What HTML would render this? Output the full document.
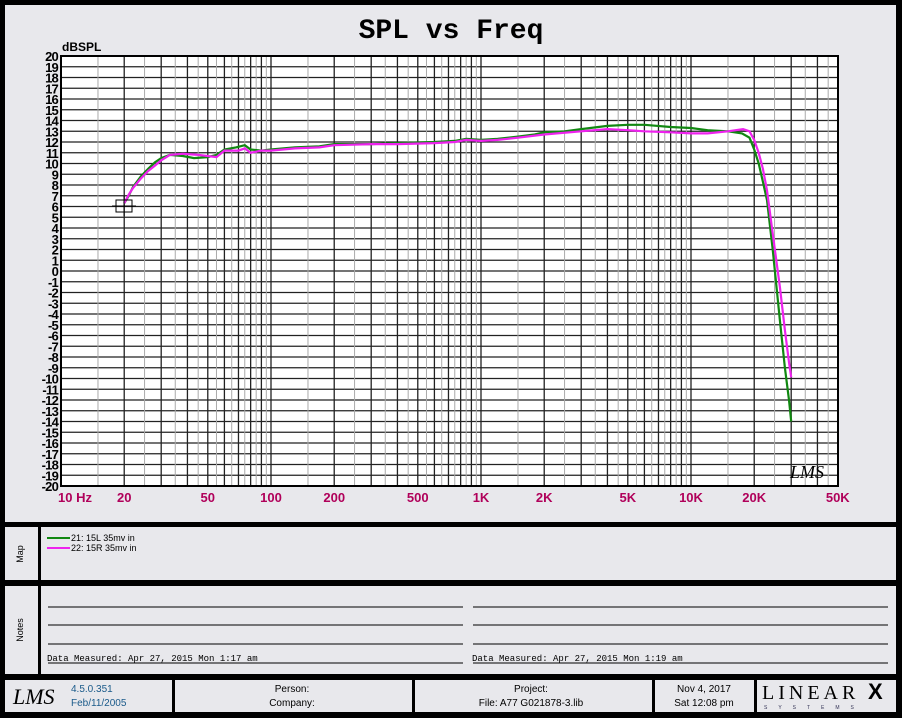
<!DOCTYPE html>
<html><head><meta charset="utf-8"><style>
body{margin:0;width:902px;height:718px;overflow:hidden;background:#000;font-family:"Liberation Sans",sans-serif}
svg{display:block}
</style></head><body>
<svg id="s" width="902" height="718" xmlns="http://www.w3.org/2000/svg">
<rect x="0" y="0" width="902" height="718" fill="#000"/>
<rect x="5" y="5" width="891" height="517" fill="#e8e8ec"/>
<rect x="5" y="527" width="891" height="53" fill="#e8e8ec"/>
<rect x="5" y="586" width="891" height="88" fill="#e8e8ec"/>
<rect x="5" y="680" width="891" height="32" fill="#e8e8ec"/>
<rect x="38" y="527" width="3" height="53" fill="#000"/>
<rect x="38" y="586" width="3" height="88" fill="#000"/>
<rect x="172" y="680" width="3" height="32" fill="#000"/>
<rect x="412" y="680" width="3" height="32" fill="#000"/>
<rect x="652" y="680" width="3" height="32" fill="#000"/>
<rect x="754" y="680" width="3" height="32" fill="#000"/>
<text x="451" y="38" text-anchor="middle" font-family="Liberation Mono,monospace" font-weight="bold" font-size="28">SPL vs Freq</text>
<text x="62" y="51" font-weight="bold" font-size="12">dBSPL</text>
<rect x="61" y="56" width="777" height="430" fill="#fff"/>
<g id="grid"></g>
<g id="lab"></g>
<polyline id="g" fill="none" stroke="#118811" stroke-width="2.2"/>
<polyline id="m" fill="none" stroke="#ee22ee" stroke-width="2.2"/>
<rect x="61" y="56" width="777" height="430" fill="none" stroke="#000" stroke-width="2"/>
<rect x="116" y="200" width="16" height="12" fill="none" stroke="#000" stroke-width="1"/>
<line x1="112" y1="206" x2="136" y2="206" stroke="#000"/>
<line x1="124" y1="196" x2="124" y2="216" stroke="#000"/>
<text x="790" y="478" font-family="Liberation Serif,serif" font-style="italic" font-size="18">LMS</text>
<line x1="47" y1="538" x2="70" y2="538" stroke="#118811" stroke-width="2"/>
<line x1="47" y1="548" x2="70" y2="548" stroke="#ee22ee" stroke-width="2"/>
<text x="71" y="541" font-size="9">21: 15L  35mv in</text>
<text x="71" y="551" font-size="9">22: 15R 35mv in</text>
<text x="23" y="554" font-size="9" transform="rotate(-90 23 554)" text-anchor="middle">Map</text>
<text x="23" y="630" font-size="9" transform="rotate(-90 23 630)" text-anchor="middle">Notes</text>
<g stroke="#000" stroke-width="1">
<line x1="48" y1="607" x2="463" y2="607"/><line x1="48" y1="625" x2="463" y2="625"/><line x1="48" y1="644" x2="463" y2="644"/><line x1="48" y1="663" x2="463" y2="663"/>
<line x1="473" y1="607" x2="888" y2="607"/><line x1="473" y1="625" x2="888" y2="625"/><line x1="473" y1="644" x2="888" y2="644"/><line x1="473" y1="663" x2="888" y2="663"/>
</g>
<text x="47" y="661" font-family="Liberation Mono,monospace" font-size="9">Data Measured: Apr 27, 2015  Mon  1:17 am</text>
<text x="472" y="661" font-family="Liberation Mono,monospace" font-size="9">Data Measured: Apr 27, 2015  Mon  1:19 am</text>
<text x="13" y="704" font-family="Liberation Serif,serif" font-style="italic" font-size="22">LMS</text>
<text x="71" y="692" font-size="10" fill="#1a5a8a">4.5.0.351</text>
<text x="71" y="706" font-size="10" fill="#1a5a8a">Feb/11/2005</text>
<text x="292" y="692" font-size="10" text-anchor="middle">Person:</text>
<text x="292" y="706" font-size="10" text-anchor="middle">Company:</text>
<text x="531" y="692" font-size="10" text-anchor="middle">Project:</text>
<text x="531" y="706" font-size="10" text-anchor="middle">File: A77 G021878-3.lib</text>
<text x="704" y="692" font-size="10" text-anchor="middle">Nov  4, 2017</text>
<text x="704" y="706" font-size="10" text-anchor="middle">Sat 12:08 pm</text>
<text x="762" y="699" font-family="Liberation Serif,serif" font-size="20" letter-spacing="4">LINEAR</text>
<text x="868" y="699" font-weight="bold" font-size="22">X</text>
<text x="764" y="709" font-size="5" letter-spacing="11" fill="#335">SYSTEMS</text>
</svg>
<script>
var NS="http://www.w3.org/2000/svg";
function X(f){return 61+210*Math.log10(f/10);}
function Y(d){return 56+(20-d)*10.75;}
function el(p,t,a,txt){var e=document.createElementNS(NS,t);for(var k in a)e.setAttribute(k,a[k]);if(txt!==undefined)e.textContent=txt;p.appendChild(e);return e;}
var g=document.getElementById("grid"),lab=document.getElementById("lab");
for(var d=-19;d<=19;d++){var y=Y(d);el(g,"line",{x1:61,x2:838,y1:y,y2:y,stroke:"#222","stroke-width":1.3});}
[10,100,1000,10000].forEach(function(b){for(var n=1;n<=9.5;n+=0.5){var f=n*b;if(f<=10||f>=50000)continue;var x=X(f);var maj=(n%1===0);el(g,"line",{x1:x,x2:x,y1:56,y2:486,stroke:maj?"#222":"#aaa","stroke-width":maj?1.3:1});}});
for(var d=-20;d<=20;d++){el(lab,"text",{x:58,y:Y(d)+5,"text-anchor":"end","font-weight":"bold","font-size":13,"letter-spacing":"-0.8"},String(d));}
var xl=[[10,"10 Hz",0],[20,"20"],[50,"50"],[100,"100"],[200,"200"],[500,"500"],[1000,"1K"],[2000,"2K"],[5000,"5K"],[10000,"10K"],[20000,"20K"],[50000,"50K"]];
xl.forEach(function(a){var x=X(a[0]);el(lab,"text",{x:a[0]==10?x-3:x,y:502,"text-anchor":a[0]==10?"start":"middle","font-weight":"bold","font-size":13,fill:"#b0005a"},a[1]);});
var G=[[20,6.3],[21,7],[22,7.8],[24,8.8],[26,9.5],[28,10.1],[30,10.5],[33,10.8],[38,10.7],[43,10.5],[50,10.6],[55,10.8],[60,11.3],[68,11.5],[75,11.7],[80,11.3],[90,11.2],[100,11.3],[130,11.5],[170,11.6],[200,11.8],[300,11.8],[400,11.9],[600,12],[750,12.1],[850,12.3],[1000,12.2],[1200,12.3],[1500,12.5],[1800,12.7],[2000,12.9],[2500,13],[3000,13.2],[4000,13.5],[5000,13.6],[6000,13.6],[8000,13.4],[10000,13.3],[12000,13.1],[15000,13],[17500,12.8],[19000,12.4],[20000,11.3],[21000,10],[22000,8.3],[23000,6.6],[24500,2],[26500,-4.6],[28000,-9],[29300,-12],[30000,-14]];
var M=[[20,6.3],[21,7.1],[22,7.7],[24,8.6],[26,9.3],[28,9.8],[30,10.3],[33,10.8],[38,10.9],[45,10.8],[55,10.6],[60,11.2],[70,11.2],[75,11.4],[80,11],[90,11.2],[100,11.2],[130,11.4],[170,11.5],[200,11.7],[300,11.8],[400,11.8],[600,11.9],[750,12],[850,12.2],[1000,12.1],[1200,12.2],[1500,12.4],[2000,12.7],[3000,13],[4000,13.2],[5000,13.1],[6000,13],[8000,12.9],[10000,12.8],[12000,12.8],[15000,13],[17700,13.2],[19000,13],[20000,12.2],[21000,11],[22000,9.5],[23000,7.5],[24500,3.5],[26500,-1.5],[28000,-5.5],[29300,-8.5],[30000,-9.9]];
function pts(a){return a.map(function(p){return X(p[0]).toFixed(1)+","+Y(p[1]).toFixed(1);}).join(" ");}
document.getElementById("g").setAttribute("points",pts(G));
document.getElementById("m").setAttribute("points",pts(M));
</script>
</body></html>
